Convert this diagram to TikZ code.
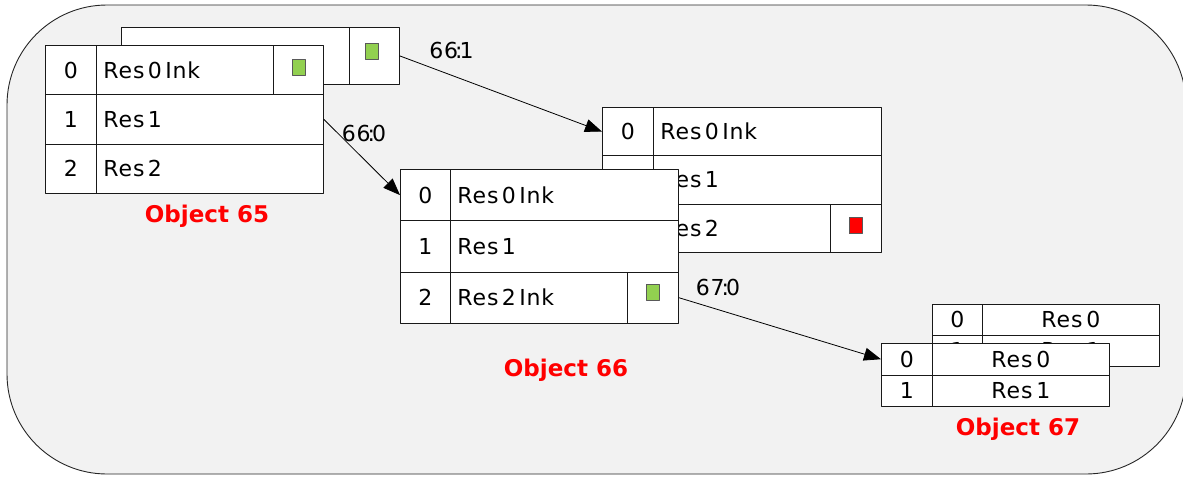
\documentclass[tikz,border=0pt]{standalone}
\usepackage{fontspec}
\setmainfont[WordSpace=0.5,LetterSpace=4]{DejaVu Sans}
\newfontfamily\objfamily{DejaVu Sans Bold}
\usepackage{xcolor}
\usepackage{tikz}
\usetikzlibrary{arrows.meta,calc}
\definecolor{bgfill}{HTML}{F2F2F2}
\definecolor{inkgreen}{HTML}{92D050}
\definecolor{inkred}{HTML}{FF0000}
\definecolor{objred}{HTML}{FF0000}
\newcommand{\cellfont}{\fontsize{22}{26}\selectfont}
\newcommand{\edgefont}{\fontsize{22}{26}\selectfont}
\newcommand{\objfont}{\objfamily\fontsize{23}{27}\selectfont}
\tikzset{
  cell/.style={draw=black!90,fill=white,line width=0.9pt,anchor=north west,inner sep=0pt,font=\cellfont},
  namecell/.style={cell,inner xsep=7pt,align=left,execute at begin node={\spaceskip=3.4pt\relax}},
  midcell/.style={cell,align=center},
  inkbox/.style={draw=black!65,line width=0.6pt,minimum width=13pt,minimum height=16pt,inner sep=0pt},
  edge/.style={line width=0.8pt,-{Triangle[length=17pt,width=13pt]}},
  edgelabel/.style={font=\edgefont,inner sep=0pt},
  objlabel/.style={font=\objfont,text=objred,inner sep=0pt}
}
\begin{document}
\begin{tikzpicture}[line cap=round,line join=round,x=1pt,y=-1pt]
\clip (0,0) rectangle (1183,477);
\draw [fill=bgfill,draw=black!85,line width=0.9pt,rounded corners=100pt] (7,5) rectangle (1186,474);
% object 65, behind
\node[cell,minimum width=228pt,minimum height=57pt] (b65n0) at (121,27) {};
\node[cell,minimum width=50pt,minimum height=57pt] (b65i0) at (349,27) {};
\node[inkbox,fill=inkgreen] (b65k0) at (372,51) {};
% object 65
\node[cell,minimum width=51pt,minimum height=49.3pt] (t65x0) at (45,45) {0};
\node[namecell,text width=163pt,minimum height=49.3pt] (t65n0) at (96,45) {Res 0 Ink};
\node[cell,minimum width=50pt,minimum height=49.3pt] (t65i0) at (273,45) {};
\node[inkbox,fill=inkgreen] (t65k0) at (298.5,67) {};
\node[cell,minimum width=51pt,minimum height=49.3pt] (t65x1) at (45,94.3) {1};
\node[namecell,text width=213pt,minimum height=49.3pt] (t65n1) at (96,94.3) {Res 1};
\node[cell,minimum width=51pt,minimum height=49.3pt] (t65x2) at (45,143.6) {2};
\node[namecell,text width=213pt,minimum height=49.3pt] (t65n2) at (96,143.6) {Res 2};
\node[objlabel] (l65) at (207,216) {Object 65};
% object 66, behind
\node[cell,minimum width=51pt,minimum height=48.3pt] (b66x0) at (602,107) {0};
\node[namecell,text width=214pt,minimum height=48.3pt] (b66n0) at (653,107) {Res 0 Ink};
\node[cell,minimum width=51pt,minimum height=48.3pt] (b66x1) at (602,155.3) {1};
\node[namecell,text width=214pt,minimum height=48.3pt] (b66n1) at (653,155.3) {Res 1};
\node[cell,minimum width=51pt,minimum height=48.3pt] (b66x2) at (602,203.6) {2};
\node[namecell,text width=163pt,minimum height=48.3pt] (b66n2) at (653,203.6) {Res 2};
\node[cell,minimum width=51pt,minimum height=48.3pt] (b66i2) at (830,203.6) {};
\node[inkbox,fill=inkred] (b66k2) at (855.5,225.5) {};
% object 66
\node[cell,minimum width=50pt,minimum height=51.3pt] (t66x0) at (400,169) {0};
\node[namecell,text width=214pt,minimum height=51.3pt] (t66n0) at (450,169) {Res 0 Ink};
\node[cell,minimum width=50pt,minimum height=51.3pt] (t66x1) at (400,220.3) {1};
\node[namecell,text width=214pt,minimum height=51.3pt] (t66n1) at (450,220.3) {Res 1};
\node[cell,minimum width=50pt,minimum height=51.3pt] (t66x2) at (400,271.6) {2};
\node[namecell,text width=163pt,minimum height=51.3pt] (t66n2) at (450,271.6) {Res 2 Ink};
\node[cell,minimum width=51pt,minimum height=51.3pt] (t66i2) at (627,271.6) {};
\node[inkbox,fill=inkgreen] (t66k2) at (652.5,292) {};
\node[objlabel] (l66) at (566,370) {Object 66};
% object 67, behind
\node[cell,minimum width=50pt,minimum height=31pt] (b67x0) at (932,304) {0};
\node[midcell,minimum width=177pt,minimum height=31pt] (b67n0) at (982,304) {Res 0};
\node[cell,minimum width=50pt,minimum height=31pt] (b67x1) at (932,335) {1};
\node[midcell,minimum width=177pt,minimum height=31pt] (b67n1) at (982,335) {Res 1};
% object 67
\node[cell,minimum width=51pt,minimum height=31.5pt] (t67x0) at (881,343) {0};
\node[midcell,minimum width=177pt,minimum height=31.5pt] (t67n0) at (932,343) {Res 0};
\node[cell,minimum width=51pt,minimum height=31.5pt] (t67x1) at (881,374.5) {1};
\node[midcell,minimum width=177pt,minimum height=31.5pt] (t67n1) at (932,374.5) {Res 1};
\node[objlabel] (l67) at (1018,429) {Object 67};
% links
\draw [edge] (b65i0.east) -- (b66x0.west);
\draw [edge] (t65n1.east) -- (t66x0.west);
\draw [edge] (t66i2.east) -- (t67x0.west);
\node[edgelabel] (e661) at (451.5,50) {66\kern-3pt:\kern-3pt1};
\node[edgelabel] (e660) at (364,133) {66\kern-3pt:\kern-3pt0};
\node[edgelabel] (e670) at (718,287) {67\kern-3pt:\kern-3pt0};
\end{tikzpicture}
\end{document}
